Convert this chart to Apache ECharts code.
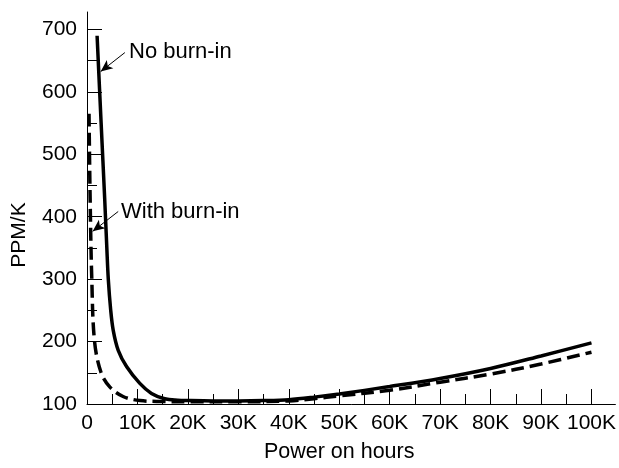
<!DOCTYPE html>
<html>
<head>
<meta charset="utf-8">
<script src="https://cdn.jsdelivr.net/npm/echarts@6/dist/echarts.min.js"></script>
<style>html,body{margin:0;padding:0;background:#fff}#c{width:619px;height:468px}</style>
</head>
<body>
<div id="c"></div>
<script>
// Data (hours, PPM/K)
const noBurnIn = [[2000,690],[2800,550],[3500,430],[3930,350],[4220,300],[4680,252],[5200,218],[6190,186],[7840,160],[10470,133],[12780,117],[15400,108.5],[18000,106],[20000,105.5],[25000,105],[30000,105],[35000,105.5],[40000,107],[45000,111],[50000,116],[60000,128],[70000,141],[80000,157],[90000,177],[100000,198]];
const withBurnIn = [[400,565],[620,430],[950,300],[1500,200],[2800,150],[4550,127],[7150,112],[10500,105.5],[15000,104],[20000,103.5],[30000,103.5],[40000,105],[45000,108.5],[50000,113],[60000,122],[70000,135],[80000,148],[90000,164],[100000,183]];
const xMajorTicks = [0,10000,20000,30000,40000,50000,60000,70000,80000,90000,100000];
const xMinorTicks = [5000,15000,25000,35000,45000,55000,65000,75000,85000,95000];
const yMajorTicks = [100,200,300,400,500,600,700];
const yMinorTicks = [150,250,350,450,550,650];
const arrowNoBurnIn = [[7510,663],[2708,632.6]];
const arrowWithBurnIn = [[6186,408.4],[1126,376.6]];

const FONT = "'Liberation Sans', Arial, Helvetica, sans-serif";
const chart = echarts.init(document.getElementById('c'));
const xFmt = v => v === 0 ? '0' : (v/1000) + 'K';
const X_MAX = 104740, Y_MAX = 728;

chart.setOption({
  animation: false,
  grid: {left: 87, top: 12, right: 2, bottom: 61},
  xAxis: [{
    type: 'value', min: 0, max: X_MAX,
    name: 'Power on hours', nameLocation: 'middle', nameGap: 37,
    nameTextStyle: {fontFamily: FONT, fontSize: 21.5, color: '#000', padding: [0, 24, 0, 0]},
    axisLine: {show: true, onZero: false, lineStyle: {color: '#000', width: 1}},
    axisTick: {show: true, inside: true, length: 15, customValues: xMajorTicks, lineStyle: {color: '#000', width: 1}},
    axisLabel: {show: true, customValues: xMajorTicks, formatter: xFmt, margin: 9, fontFamily: FONT, fontSize: 21, color: '#000'},
    splitLine: {show: false}
  }, {
    type: 'value', min: 0, max: X_MAX, position: 'bottom',
    axisLine: {show: false, onZero: false},
    axisTick: {show: true, inside: true, length: 10, customValues: xMinorTicks, lineStyle: {color: '#000', width: 1}},
    axisLabel: {show: false},
    splitLine: {show: false}
  }],
  yAxis: [{
    type: 'value', min: 100, max: Y_MAX,
    name: 'PPM/K', nameLocation: 'middle', nameGap: 57, nameRotate: 90,
    nameTextStyle: {fontFamily: FONT, fontSize: 21, color: '#000', padding: [0, 54, 0, 0]},
    axisLine: {show: true, onZero: false, lineStyle: {color: '#000', width: 1}},
    axisTick: {show: true, inside: true, length: 15, customValues: yMajorTicks, lineStyle: {color: '#000', width: 1}},
    axisLabel: {show: true, customValues: yMajorTicks, margin: 10, fontFamily: FONT, fontSize: 21, color: '#000'},
    splitLine: {show: false}
  }, {
    type: 'value', min: 100, max: Y_MAX, position: 'left',
    axisLine: {show: false, onZero: false},
    axisTick: {show: true, inside: true, length: 10, customValues: yMinorTicks, lineStyle: {color: '#000', width: 1}},
    axisLabel: {show: false},
    splitLine: {show: false}
  }],
  series: [{
    name: 'No burn-in', type: 'line', data: noBurnIn, smooth: 0.35, showSymbol: false,
    lineStyle: {color: '#000', width: 3.5, type: 'solid'},
    markLine: {
      silent: true, symbol: ['none', 'arrow'], symbolSize: [8, 12],
      lineStyle: {color: '#000', width: 1, type: 'solid'}, label: {show: false},
      data: [[{coord: arrowNoBurnIn[0]}, {coord: arrowNoBurnIn[1]}]]
    }
  }, {
    name: 'With burn-in', type: 'line', data: withBurnIn, smooth: 0.35, showSymbol: false,
    lineStyle: {color: '#000', width: 3.5, type: [13, 6]},
    markLine: {
      silent: true, symbol: ['none', 'arrow'], symbolSize: [8, 12],
      lineStyle: {color: '#000', width: 1, type: 'solid'}, label: {show: false},
      data: [[{coord: arrowWithBurnIn[0]}, {coord: arrowWithBurnIn[1]}]]
    }
  }],
  graphic: [
    {type: 'text', x: 129, y: 52, style: {text: 'No burn-in', fontSize: 22, fontFamily: FONT, fill: '#000', verticalAlign: 'middle'}},
    {type: 'text', x: 121, y: 212, style: {text: 'With burn-in', fontSize: 22, fontFamily: FONT, fill: '#000', verticalAlign: 'middle'}}
  ]
});
</script>
</body>
</html>
